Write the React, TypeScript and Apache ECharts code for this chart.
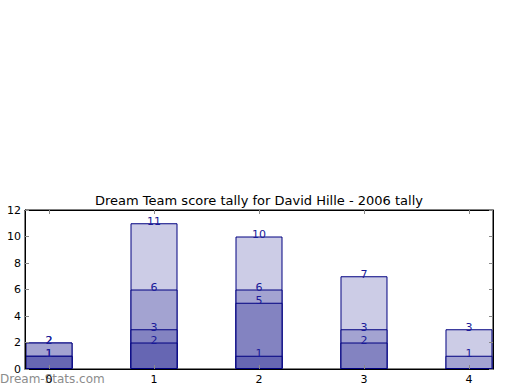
import React, { useEffect, useRef } from "react";
import * as echarts from "echarts";

const categories = [0, 1, 2, 3, 4];
const layer1 = [1, 2, 1, 0, 0];
const layer2 = [0, 1, 4, 2, 0];
const layer3 = [1, 3, 1, 1, 1];
const layer4 = [0, 5, 4, 4, 2];
const layers = [layer1, layer2, layer3, layer4];
const colors = ["#6666b3", "#8383c1", "#a3a3d1", "#ccccE6"];

export default function App() {
  const ref = useRef<HTMLDivElement>(null);
  useEffect(() => {
    const chart = echarts.init(ref.current!, null, { renderer: "svg" });
    const cum: number[][] = [];
    layers.forEach((l, i) => {
      cum.push(l.map((v, j) => v + (i > 0 ? cum[i - 1][j] : 0)));
    });
    const font = "DejaVu Sans";
    // draw the cumulative bars from the top layer down, so lower layers sit in front
    const series = layers
      .map((_, i) => ({
        type: "bar",
        barWidth: 47,
        barGap: "-100%",
        z: 10 - i,
        data: cum[i].map((v, j) => [categories[j], v]),
        itemStyle: { color: colors[i], borderColor: "#000080", borderWidth: 1 },
        label: {
          show: true,
          position: ["50%", -2],
          align: "center",
          verticalAlign: "middle",
          color: "#1a1a99",
          fontFamily: font,
          fontSize: 11,
          formatter: (p: any) => {
            const c = cum[i][p.dataIndex];
            return c > 0 ? String(c) : "";
          },
        },
        emphasis: { disabled: true },
      }))
      .reverse();
    const tickStyle = { show: true, inside: true, length: 4, lineStyle: { color: "#888", width: 1 } };
    const line = { show: true, onZero: false, lineStyle: { color: "#000", width: 1 } };
    chart.setOption({
      animation: false,
      title: {
        text: "Dream Team score tally for David Hille - 2006 tally",
        left: 259,
        top: 194,
        padding: 0,
        textAlign: "center",
        textStyle: { fontFamily: font, fontSize: 13, fontWeight: "normal", color: "#000" },
      },
      graphic: [
        {
          type: "text",
          left: 0,
          top: 373,
          style: {
            text: "Dream-Stats.com",
            fontFamily: font,
            fontSize: 12,
            fontWeight: "normal",
            fill: "#8c8c8c",
          },
        },
      ],
      grid: {
        left: 25,
        top: 210,
        width: 468,
        height: 159,
        show: true,
        borderColor: "#000",
        borderWidth: 1,
        backgroundColor: "transparent",
      },
      xAxis: [
        {
          type: "value",
          z: 30,
          min: -0.2286,
          max: 4.2286,
          axisLine: line,
          axisTick: { ...tickStyle, customValues: categories },
          axisLabel: {
            customValues: categories,
            color: "#000",
            fontFamily: font,
            fontSize: 11,
            margin: 5,
          },
          splitLine: { show: false },
        },
        {
          type: "value",
          z: 30,
          position: "top",
          min: -0.2286,
          max: 4.2286,
          axisLine: line,
          axisTick: { ...tickStyle, customValues: categories },
          axisLabel: { show: false },
          splitLine: { show: false },
        },
      ],
      yAxis: [
        {
          type: "value",
          z: 30,
          position: "left",
          min: 0,
          max: 12,
          interval: 2,
          axisLine: line,
          axisTick: tickStyle,
          axisLabel: { color: "#000", fontFamily: font, fontSize: 11, margin: 4 },
          splitLine: { show: false },
        },
        {
          type: "value",
          z: 30,
          position: "right",
          min: 0,
          max: 12,
          interval: 2,
          axisLine: line,
          axisTick: tickStyle,
          axisLabel: { show: false },
          splitLine: { show: false },
        },
      ],
      series,
    });
    return () => chart.dispose();
  }, []);
  return (
    <div
      ref={ref}
      style={{ position: "fixed", left: 0, top: 0, width: 520, height: 390, background: "#fff" }}
    />
  );
}
